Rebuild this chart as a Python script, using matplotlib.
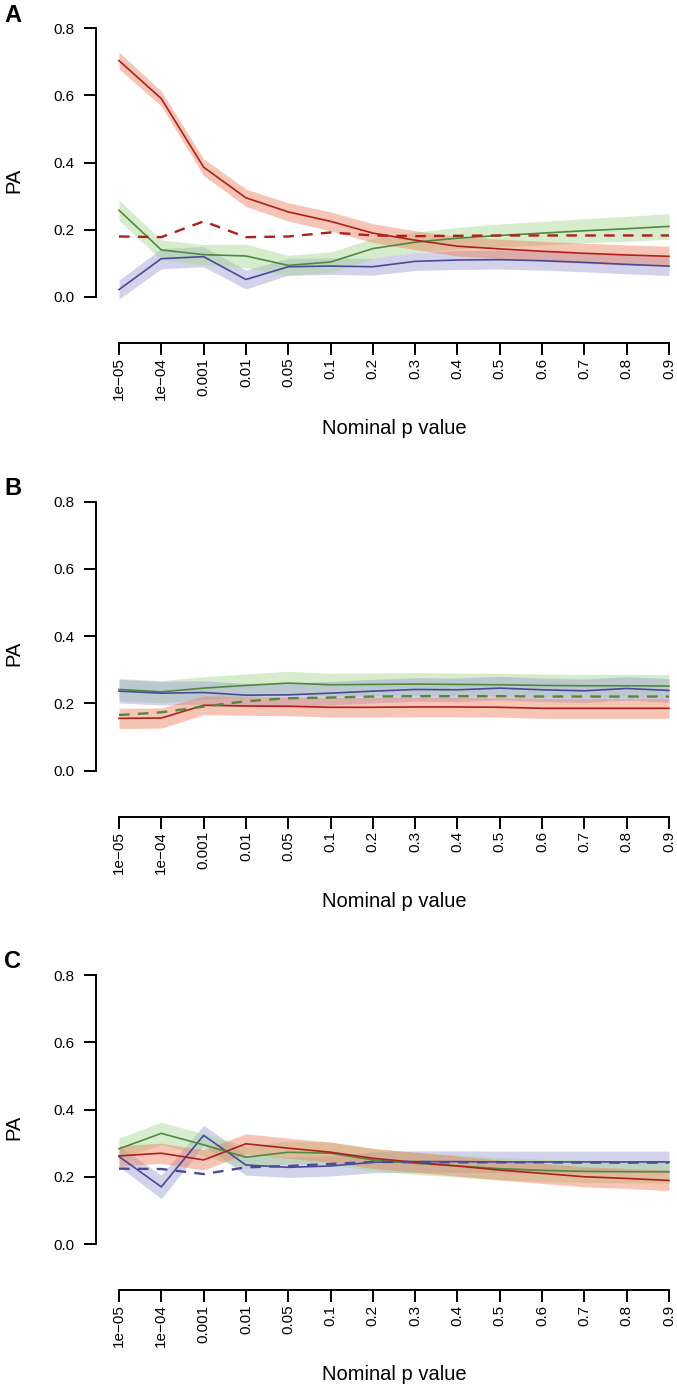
import matplotlib
matplotlib.use("Agg")
import matplotlib.pyplot as plt
import numpy as np

plt.rcParams["font.family"] = ["Liberation Sans", "DejaVu Sans"]

# x categories
p_labels = ["1e\u221205", "1e\u221204", "0.001", "0.01", "0.05", "0.1", "0.2",
            "0.3", "0.4", "0.5", "0.6", "0.7", "0.8", "0.9"]
pos = np.arange(len(p_labels))

# panel A
a_red = [0.703, 0.590, 0.386, 0.295, 0.253, 0.225, 0.190, 0.169, 0.151, 0.143, 0.136, 0.130, 0.125, 0.121]
a_red_err = [0.025, 0.022, 0.025, 0.026, 0.027, 0.028, 0.028, 0.028, 0.029, 0.029, 0.030, 0.030, 0.030, 0.030]
a_red_dash = [0.180, 0.178, 0.225, 0.178, 0.180, 0.192, 0.183, 0.181, 0.182, 0.183, 0.183, 0.183, 0.183, 0.183]
a_green = [0.258, 0.140, 0.126, 0.122, 0.094, 0.104, 0.144, 0.163, 0.175, 0.183, 0.190, 0.197, 0.203, 0.210]
a_green_err = [0.030, 0.030, 0.030, 0.035, 0.030, 0.030, 0.030, 0.030, 0.032, 0.034, 0.035, 0.036, 0.037, 0.038]
a_blue = [0.022, 0.114, 0.120, 0.052, 0.090, 0.092, 0.090, 0.106, 0.110, 0.111, 0.108, 0.103, 0.097, 0.092]
a_blue_err = [0.028, 0.030, 0.030, 0.028, 0.025, 0.025, 0.025, 0.027, 0.028, 0.028, 0.028, 0.028, 0.028, 0.028]

# panel B
b_green = [0.241, 0.234, 0.245, 0.253, 0.260, 0.255, 0.256, 0.257, 0.256, 0.255, 0.253, 0.252, 0.252, 0.251]
b_green_err = [0.033, 0.033, 0.034, 0.034, 0.035, 0.034, 0.034, 0.034, 0.034, 0.034, 0.034, 0.034, 0.034, 0.034]
b_blue = [0.236, 0.230, 0.232, 0.224, 0.225, 0.230, 0.236, 0.241, 0.240, 0.245, 0.240, 0.237, 0.244, 0.238]
b_blue_err = [0.035, 0.035, 0.035, 0.035, 0.035, 0.035, 0.035, 0.035, 0.035, 0.035, 0.035, 0.035, 0.035, 0.035]
b_red = [0.155, 0.156, 0.194, 0.192, 0.191, 0.188, 0.188, 0.189, 0.189, 0.188, 0.185, 0.185, 0.185, 0.185]
b_red_err = [0.030, 0.030, 0.028, 0.028, 0.028, 0.029, 0.029, 0.029, 0.029, 0.029, 0.030, 0.030, 0.030, 0.030]
b_green_dash = [0.165, 0.173, 0.190, 0.206, 0.215, 0.217, 0.220, 0.221, 0.221, 0.221, 0.220, 0.220, 0.220, 0.220]

# panel C
c_green = [0.283, 0.329, 0.295, 0.258, 0.273, 0.270, 0.250, 0.240, 0.232, 0.224, 0.219, 0.216, 0.215, 0.215]
c_green_err = [0.032, 0.033, 0.033, 0.033, 0.033, 0.033, 0.033, 0.033, 0.033, 0.033, 0.033, 0.033, 0.033, 0.033]
c_red = [0.262, 0.270, 0.250, 0.298, 0.285, 0.273, 0.255, 0.243, 0.232, 0.220, 0.210, 0.200, 0.195, 0.189]
c_red_err = [0.030, 0.030, 0.030, 0.030, 0.030, 0.030, 0.030, 0.030, 0.030, 0.030, 0.030, 0.030, 0.030, 0.030]
c_blue = [0.260, 0.170, 0.323, 0.235, 0.228, 0.232, 0.243, 0.245, 0.245, 0.244, 0.244, 0.244, 0.244, 0.244]
c_blue_err = [0.030, 0.035, 0.030, 0.030, 0.030, 0.030, 0.031, 0.032, 0.032, 0.032, 0.032, 0.032, 0.032, 0.032]
c_blue_dash = [0.224, 0.223, 0.208, 0.228, 0.232, 0.238, 0.244, 0.244, 0.243, 0.243, 0.243, 0.242, 0.242, 0.242]

RED, RED_F = "#b01f1a", "#ec7f5e"
GREEN, GREEN_F = "#4f8a3e", "#a3d88f"
BLUE, BLUE_F = "#4a4a98", "#9c9cd2"

W, H = 677, 1389
fig = plt.figure(figsize=(W / 100, H / 100), dpi=100)

x0_px, step_px = 119, (669 - 119) / 13
ppu = 269 / 0.8


def make_panel(i, letter):
    zero_y = 297 + 473.5 * i
    axis_y = zero_y + 46
    top_y = zero_y - 0.82 * ppu
    left, right = 96, 677
    ax = fig.add_axes([left / W, 1 - axis_y / H, (right - left) / W, (axis_y - top_y) / H])
    ax.set_xlim((left - x0_px) / step_px, (right - x0_px) / step_px)
    ax.set_ylim(-46 / ppu, 0.82)
    for s in ["top", "right"]:
        ax.spines[s].set_visible(False)
    ax.spines["left"].set_bounds(0, 0.8)
    ax.spines["bottom"].set_bounds(0, 13)
    for s in ["left", "bottom"]:
        ax.spines[s].set_linewidth(1.4)
    ax.set_yticks([0, 0.2, 0.4, 0.6, 0.8])
    ax.set_yticklabels(["0.0", "0.2", "0.4", "0.6", "0.8"])
    ax.set_xticks(pos)
    ax.set_xticklabels(p_labels, rotation=90)
    ax.tick_params(axis="both", length=8.5, width=1.4, labelsize=11)
    ax.tick_params(axis="y", pad=7)
    ax.tick_params(axis="x", pad=2)
    fig.text(4 / W, 1 - (zero_y - 282) / H, letter, fontsize=17, fontweight="bold",
             ha="left", va="center")
    fig.text(14 / W, 1 - (zero_y - 117) / H, "PA", fontsize=14.5, rotation=90,
             ha="center", va="center")
    fig.text(394 / W, 1 - (axis_y + 85) / H, "Nominal p value", fontsize=14.5,
             ha="center", va="center")
    return ax


def band(ax, vals, err, fill_c):
    v = np.array(vals)
    e = np.array(err)
    ax.fill_between(pos, v - e, v + e, color=fill_c, alpha=0.45, lw=0)


def line(ax, vals, c, dashed=False):
    if dashed:
        ax.plot(pos, vals, color=c, lw=1.7, dashes=(4.5, 3.5))
    else:
        ax.plot(pos, vals, color=c, lw=1.2)


ax = make_panel(0, "A")
band(ax, a_blue, a_blue_err, BLUE_F)
band(ax, a_green, a_green_err, GREEN_F)
band(ax, a_red, a_red_err, RED_F)
line(ax, a_blue, BLUE)
line(ax, a_green, GREEN)
line(ax, a_red, RED)
line(ax, a_red_dash, RED, dashed=True)

ax = make_panel(1, "B")
band(ax, b_green, b_green_err, GREEN_F)
band(ax, b_blue, b_blue_err, BLUE_F)
band(ax, b_red, b_red_err, RED_F)
line(ax, b_green, GREEN)
line(ax, b_blue, BLUE)
line(ax, b_red, RED)
line(ax, b_green_dash, GREEN, dashed=True)

ax = make_panel(2, "C")
band(ax, c_blue, c_blue_err, BLUE_F)
band(ax, c_green, c_green_err, GREEN_F)
band(ax, c_red, c_red_err, RED_F)
line(ax, c_blue, BLUE)
line(ax, c_green, GREEN)
line(ax, c_red, RED)
line(ax, c_blue_dash, BLUE, dashed=True)

fig.savefig("out.png", dpi=100)
